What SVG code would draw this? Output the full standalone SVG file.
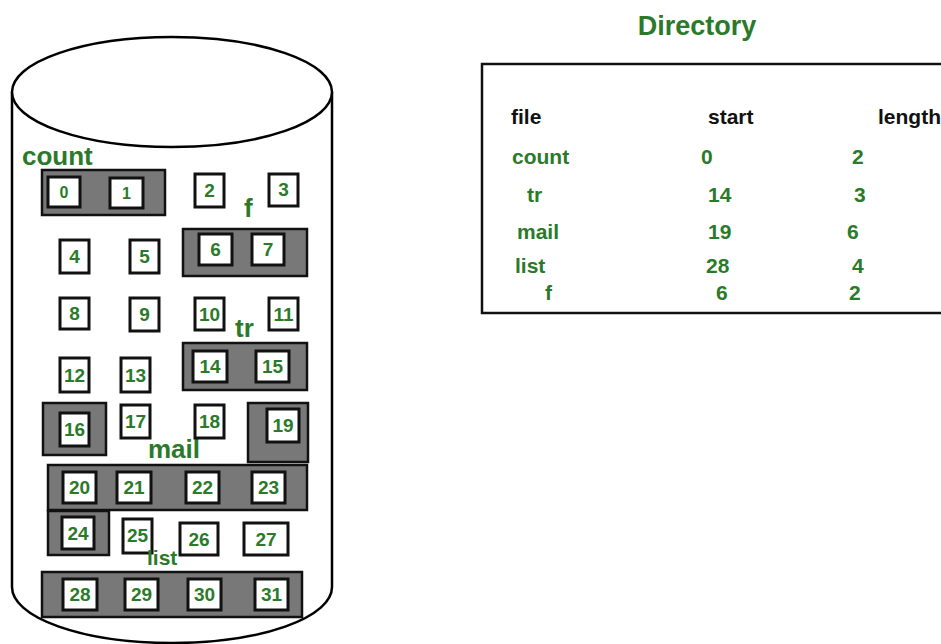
<svg xmlns="http://www.w3.org/2000/svg" width="941" height="644" viewBox="0 0 941 644">
<style>
.cyl{fill:#fff;stroke:#000;stroke-width:2.5}
.grp{fill:#787878;stroke:#111;stroke-width:2.5}
.blk{fill:#fff;stroke:#111;stroke-width:3}
.num{font-family:"Liberation Sans",Arial,sans-serif;font-weight:bold;font-size:19px;fill:#2a7a2a;text-anchor:middle}
.lbl{font-family:"Liberation Sans",Arial,sans-serif;font-weight:bold;font-size:26px;fill:#2a7a2a}
.tg{font-family:"Liberation Sans",Arial,sans-serif;font-weight:bold;font-size:21px;fill:#2a7a2a}
.tb{font-family:"Liberation Sans",Arial,sans-serif;font-weight:bold;font-size:21px;fill:#111}
</style>
<rect width="941" height="644" fill="#fff"/>
<g id="disk">
<path class="cyl" d="M12,92 L12,587 A160,56 0 0 0 332,587 L332,92"/>
<ellipse class="cyl" cx="172" cy="92" rx="160" ry="55"/>
</g>
<g id="connectors"/>
<g id="file-count">
<rect class="grp" x="42" y="170" width="123" height="45"/>
<text class="lbl" x="22" y="165">count</text>
</g>
<g id="file-f">
<rect class="grp" x="183" y="229" width="124" height="47"/>
<text class="lbl" x="244" y="217">f</text>
</g>
<g id="file-tr">
<rect class="grp" x="183" y="343" width="124" height="47"/>
<text class="lbl" x="235" y="337">tr</text>
</g>
<g id="file-mail">
<rect class="grp" x="43" y="403" width="63" height="52"/>
<rect class="grp" x="248" y="403" width="60" height="59"/>
<rect class="grp" x="48" y="465" width="259" height="45"/>
<rect class="grp" x="48" y="511" width="61" height="44"/>
<text class="lbl" x="148" y="458">mail</text>
</g>
<g id="file-list">
<rect class="grp" x="42" y="572" width="260" height="45"/>
</g>
<g id="blocks">
<g id="b0"><rect class="blk" x="48" y="177" width="32" height="30"/><text class="num" style="font-size:16px" x="64" y="198">0</text></g>
<g id="b1"><rect class="blk" x="110" y="178" width="33" height="30"/><text class="num" style="font-size:16px" x="126.5" y="199">1</text></g>
<g id="b2"><rect class="blk" x="195" y="174" width="29" height="33"/><text class="num" x="209.5" y="197">2</text></g>
<g id="b3"><rect class="blk" x="269" y="174" width="29" height="32"/><text class="num" x="283.5" y="196">3</text></g>
<g id="b4"><rect class="blk" x="60" y="240" width="29" height="33"/><text class="num" x="74.5" y="263">4</text></g>
<g id="b5"><rect class="blk" x="130" y="240" width="29" height="33"/><text class="num" x="144.5" y="263">5</text></g>
<g id="b6"><rect class="blk" x="199" y="234" width="33" height="31"/><text class="num" x="215.5" y="256">6</text></g>
<g id="b7"><rect class="blk" x="252" y="234" width="32" height="31"/><text class="num" x="268" y="256">7</text></g>
<g id="b8"><rect class="blk" x="60" y="298" width="29" height="31"/><text class="num" x="74.5" y="320">8</text></g>
<g id="b9"><rect class="blk" x="130" y="298" width="29" height="33"/><text class="num" x="144.5" y="321">9</text></g>
<g id="b10"><rect class="blk" x="195" y="298" width="29" height="32"/><text class="num" x="209.5" y="321">10</text></g>
<g id="b11"><rect class="blk" x="269" y="298" width="29" height="32"/><text class="num" x="283.5" y="321">11</text></g>
<g id="b12"><rect class="blk" x="60" y="358" width="29" height="34"/><text class="num" x="74.5" y="382">12</text></g>
<g id="b13"><rect class="blk" x="121" y="358" width="29" height="34"/><text class="num" x="135.5" y="382">13</text></g>
<g id="b14"><rect class="blk" x="193" y="351" width="34" height="31"/><text class="num" x="210" y="373">14</text></g>
<g id="b15"><rect class="blk" x="256" y="351" width="33" height="31"/><text class="num" x="272.5" y="373">15</text></g>
<g id="b16"><rect class="blk" x="60" y="413" width="29" height="33"/><text class="num" x="74.5" y="436">16</text></g>
<g id="b17"><rect class="blk" x="121" y="405" width="29" height="33"/><text class="num" x="135.5" y="428">17</text></g>
<g id="b18"><rect class="blk" x="195" y="405" width="29" height="33"/><text class="num" x="209.5" y="428">18</text></g>
<g id="b19"><rect class="blk" x="267" y="409" width="32" height="33"/><text class="num" x="283" y="432">19</text></g>
<g id="b20"><rect class="blk" x="63" y="472" width="33" height="31"/><text class="num" x="79.5" y="494">20</text></g>
<g id="b21"><rect class="blk" x="117" y="472" width="34" height="31"/><text class="num" x="134" y="494">21</text></g>
<g id="b22"><rect class="blk" x="186" y="472" width="33" height="31"/><text class="num" x="202.5" y="494">22</text></g>
<g id="b23"><rect class="blk" x="252" y="472" width="33" height="31"/><text class="num" x="268.5" y="494">23</text></g>
<g id="b24"><rect class="blk" x="62" y="517" width="32" height="32"/><text class="num" x="78" y="540">24</text></g>
<g id="b25"><rect class="blk" x="123" y="519" width="29" height="34"/><text class="num" x="137.5" y="542">25</text></g>
<g id="b26"><rect class="blk" x="180" y="523" width="38" height="32"/><text class="num" x="199" y="546">26</text></g>
<g id="b27"><rect class="blk" x="244" y="523" width="44" height="32"/><text class="num" x="266" y="546">27</text></g>
<g id="b28"><rect class="blk" x="63" y="579" width="34" height="31"/><text class="num" x="80" y="601">28</text></g>
<g id="b29"><rect class="blk" x="125" y="579" width="33" height="31"/><text class="num" x="141.5" y="601">29</text></g>
<g id="b30"><rect class="blk" x="188" y="579" width="33" height="31"/><text class="num" x="204.5" y="601">30</text></g>
<g id="b31"><rect class="blk" x="255" y="579" width="33" height="31"/><text class="num" x="271.5" y="601">31</text></g>
</g>
<g id="list-label"><text class="lbl" style="font-size:21px" x="147" y="565">list</text></g>
<g id="directory">
<text class="lbl" style="font-size:27px" x="697" y="35" text-anchor="middle">Directory</text>
<rect x="482" y="64" width="470" height="249" fill="#fff" stroke="#111" stroke-width="2.5"/>
<text class="tb" x="511" y="124">file</text>
<text class="tb" x="708" y="124">start</text>
<text class="tb" x="878" y="124">length</text>
<text class="tg" x="512" y="164">count</text>
<text class="tg" x="701" y="164">0</text>
<text class="tg" x="852" y="164">2</text>
<text class="tg" x="527" y="202">tr</text>
<text class="tg" x="708" y="202">14</text>
<text class="tg" x="854" y="202">3</text>
<text class="tg" x="517" y="239">mail</text>
<text class="tg" x="708" y="239">19</text>
<text class="tg" x="847" y="239">6</text>
<text class="tg" x="515" y="273">list</text>
<text class="tg" x="706" y="273">28</text>
<text class="tg" x="852" y="273">4</text>
<text class="tg" x="545" y="300">f</text>
<text class="tg" x="716" y="300">6</text>
<text class="tg" x="849" y="300">2</text>
</g>
</svg>
